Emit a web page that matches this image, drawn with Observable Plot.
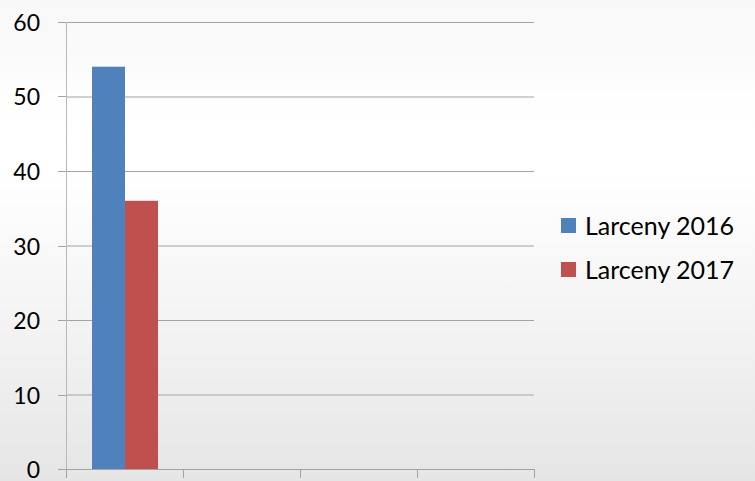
<!DOCTYPE html>
<html>
<head>
<meta charset="utf-8">
<script src="https://cdn.jsdelivr.net/npm/d3@7"></script>
<script src="https://cdn.jsdelivr.net/npm/@observablehq/plot@0.6"></script>
<style>
  html, body { margin: 0; padding: 0; }
  body {
    width: 755px; height: 481px; overflow: hidden;
    background: linear-gradient(to bottom, #f8f8f8 0%, #fafafa 12%, #fefefe 20%, #ffffff 35%, #f8f8f8 55%, #efefef 78%, #e5e5e5 100%);
    font-family: Lato, "Open Sans", sans-serif;
  }
  #wrap { position: relative; width: 755px; height: 481px; }
  #chart { position: absolute; left: 0; top: 0; }
  #legend { position: absolute; left: 561px; top: 203px; font-size: 25px; color: #000; }
  .row { display: flex; align-items: center; height: 44px; }
  .sw { width: 15px; height: 15px; margin-right: 9px; }
</style>
</head>
<body>
<div id="wrap"><div id="chart"></div><div id="legend"></div></div>
<script>
const categories = ["1", "2", "3", "4"];
const series = ["Larceny 2016", "Larceny 2017"];
const values2016 = [54, null, null, null];
const values2017 = [36, null, null, null];
const yTicks = [0, 10, 20, 30, 40, 50, 60];
const colors = ["#4f81bd", "#c0504d"];

const data = [];
categories.forEach((c, i) => {
  data.push({category: c, series: series[0], value: values2016[i]});
  data.push({category: c, series: series[1], value: values2017[i]});
});

const gridColor = "#a3a3a3";

const chart = Plot.plot({
  width: 545,
  height: 481,
  marginLeft: 66,
  marginRight: 11,
  marginTop: 22,
  marginBottom: 12,
  style: {background: "transparent", fontFamily: "Lato, 'Open Sans', sans-serif", fontSize: "23px", color: "#000", overflow: "visible"},
  fx: {domain: categories, padding: 0, axis: null, label: null},
  x: {domain: series, paddingInner: 0, paddingOuter: 0.77, axis: null, label: null},
  y: {domain: [0, 60], axis: null, label: null},
  color: {domain: series, range: colors},
  marks: [
    Plot.gridY(yTicks, {stroke: gridColor, strokeOpacity: 1}),
    Plot.barY(data, {fx: "category", x: "series", y: "value", fill: "series"}),
    Plot.ruleY([0], {stroke: gridColor})
  ]
});
document.getElementById("chart").appendChild(chart);

// axes drawn from the library's scales
const fx = chart.scale("fx");
const y = chart.scale("y");
const svg = d3.select(chart);
const g = svg.append("g").attr("stroke", gridColor).attr("shape-rendering", "crispEdges");
const bounds = fx.domain.map(d => fx.apply(d));
bounds.push(fx.apply(fx.domain[fx.domain.length - 1]) + fx.bandwidth);
const y0 = y.apply(0);
const yTop = y.apply(yTicks[yTicks.length - 1]);
bounds.forEach(b => {
  g.append("line").attr("x1", Math.round(b) + 0.5).attr("x2", Math.round(b) + 0.5).attr("y1", y0).attr("y2", y0 + 9);
});
g.append("line").attr("x1", Math.round(bounds[0]) + 0.5).attr("x2", Math.round(bounds[0]) + 0.5).attr("y1", yTop).attr("y2", y0).attr("stroke", "#b8b8b8");
yTicks.forEach(t => {
  const yy = Math.round(y.apply(t)) + 0.5;
  g.append("line").attr("x1", bounds[0] - 8).attr("x2", bounds[0]).attr("y1", yy).attr("y2", yy);
  svg.append("text").attr("x", bounds[0] - 26).attr("y", yy).attr("text-anchor", "end")
    .attr("dy", "0.36em").attr("fill", "#000").style("font-size", "23px").text(t);
});

// legend
const legend = d3.select("#legend");
series.forEach((s, i) => {
  const row = legend.append("div").attr("class", "row");
  row.append("div").attr("class", "sw").style("background", colors[i]);
  row.append("span").text(s);
});
</script>
</body>
</html>
